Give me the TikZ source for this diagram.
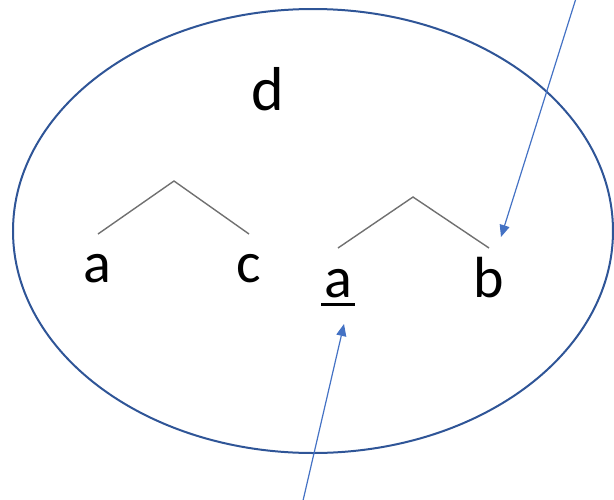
\documentclass[tikz,border=0pt]{standalone}
\usepackage{fontspec}
\setmainfont{Carlito}
\usepackage{xcolor}
\usepackage{tikz}
\usetikzlibrary{arrows.meta, calc}
\definecolor{ringblue}{HTML}{2F5597}
\definecolor{arrowblue}{HTML}{4472C4}
\definecolor{branchgray}{HTML}{707070}
\newcommand{\ulletter}[1]{{\setbox0\hbox{#1}\rlap{\kern-3pt\rule[-9pt]{\dimexpr\wd0+6pt\relax}{3pt}}#1}}

\begin{document}
\begin{tikzpicture}[
    x=1pt, y=-1pt,
    letter/.style={inner sep=0pt, anchor=base, font=\fontsize{58}{64}\selectfont},
    ring/.style={draw=ringblue, line width=2pt},
    branch/.style={draw=branchgray, line width=1.4pt},
    pointer/.style={-{Triangle[length=12pt, width=10pt]}, arrowblue, line width=1.2pt}
]
\useasboundingbox (0,0) rectangle (614,499);

\draw[ring] (313,231) ellipse [x radius=300pt, y radius=222pt];

\node[letter, font=\fontsize{62}{68}\selectfont] (d) at (268,110) {d};
\node[letter] (a1) at (97,282) {a};
\node[letter] (c) at (249,282) {c};
\node[letter] (a2) at (338,297) {\ulletter{a}};
\node[letter] (b) at (489,297) {b};

% the two little trees
\coordinate (top1) at (174,181);
\coordinate (top2) at (413,197);
\draw[branch] ($(a1.base)+(1,-48)$) -- (top1) -- ($(c.base)+(0,-48)$);
\draw[branch] ($(a2.base)+(0,-49)$) -- (top2) -- ($(b.base)+(0,-49)$);

% pointers from outside
\coordinate (from1) at (578,-8);
\coordinate (from2) at (302,505);
\draw[pointer] (from1) -- ($(b.base)+(12,-60)$);
\draw[pointer] (from2) -- ($(a2.base)+(6,27)$);

\end{tikzpicture}
\end{document}
